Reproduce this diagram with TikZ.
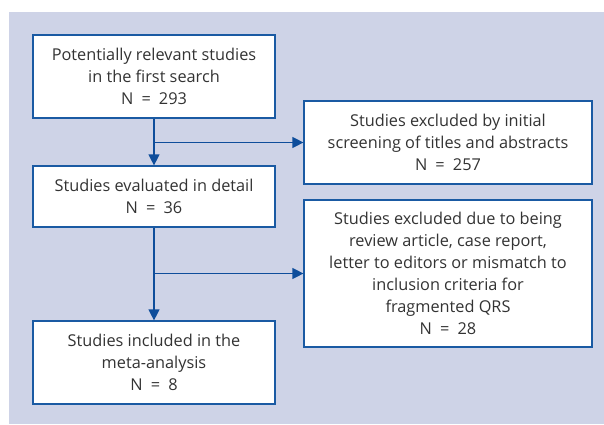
\documentclass[tikz,border=0pt]{standalone}
\usepackage{fontspec}
\setmainfont{Open Sans}
\usepackage{xcolor}
\usepackage{tikz}
\usetikzlibrary{arrows.meta, positioning}
\definecolor{panelblue}{HTML}{CED3E7}
\definecolor{frameblue}{HTML}{1A5AA3}
\definecolor{arrowblue}{HTML}{0E4D9B}
\definecolor{textgray}{HTML}{333333}
\newcommand{\numN}[1]{N\enspace=\enspace#1}

\begin{document}
\begin{tikzpicture}[
    x=1pt, y=1pt,
    box/.style={draw=frameblue, fill=white, line width=1.2pt, inner sep=0pt,
                minimum width=242pt, minimum height=83pt, align=center,
                text=textgray, font=\fontsize{16.3}{22}\selectfont},
    exbox/.style={box, minimum width=288pt},
    flow/.style={draw=arrowblue, line width=1.2pt,
                 -{Triangle[length=11pt, width=11pt]}},
    >=Stealth
  ]
    \useasboundingbox (0,0) rectangle (604,424);
    \fill[panelblue] (9,0) rectangle (604,412);

    \node[box] (first) at (154,347.5)
      {Potentially relevant studies\\in the first search\\\numN{293}};
    \node[box, minimum height=61pt] (detail) at (154,227.5)
      {Studies evaluated in detail\\\numN{36}};
    \node[box] (meta) at (154,61.5)
      {Studies included in the\\meta-analysis\\\numN{8}};
    \node[exbox] (screen) at (448,281.5)
      {Studies excluded by initial\\screening of titles and abstracts\\\numN{257}};
    \node[exbox, minimum height=147pt] (review) at (448,150.5)
      {Studies excluded due to being\\review article, case report,\\letter to editors or mismatch to\\inclusion criteria for\\fragmented QRS\\\numN{28}};

    \coordinate (split1) at (first.south |- screen.west);
    \coordinate (split2) at (detail.south |- review.west);

    \draw[flow] (first) -- (detail);
    \draw[flow] (split1) -- (screen.west);
    \draw[flow] (detail) -- (meta);
    \draw[flow] (split2) -- (review.west);
  \end{tikzpicture}
\end{document}
